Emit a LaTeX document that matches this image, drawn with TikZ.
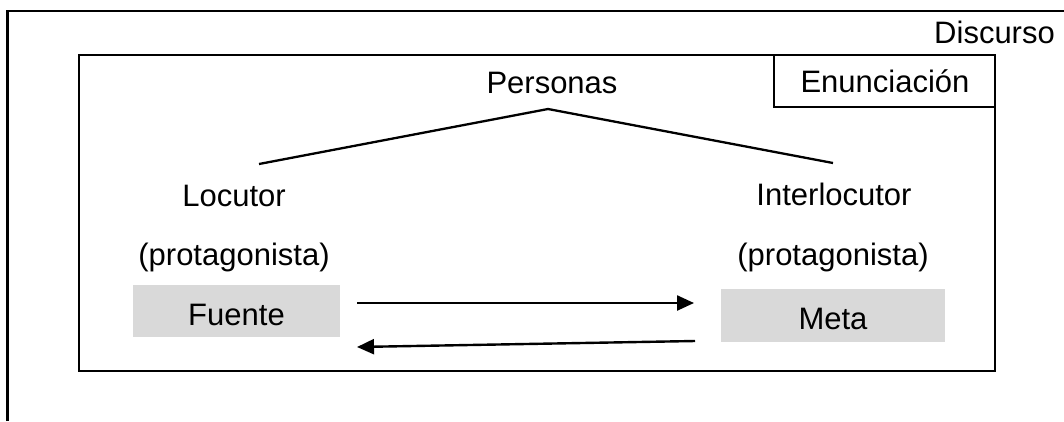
\documentclass[tikz,border=0pt]{standalone}
\usepackage{fontspec}
\setmainfont{Liberation Sans}
\usetikzlibrary{arrows.meta}
\definecolor{boxgray}{HTML}{D9D9D9}
\tikzset{
  lbl/.style={anchor=base, inner sep=0pt, font=\fontsize{31}{37}\selectfont},
  rolebox/.style={fill=boxgray, draw=none, inner sep=0pt, text height=28pt, text depth=0pt, font=\fontsize{31}{37}\selectfont},
  frame/.style={draw=black, line width=2.6pt},
  thinframe/.style={draw=black, line width=1.2pt},
  link/.style={draw=black, line width=2.3pt},
  flow/.style={draw=black, line width=2.4pt, -{Triangle[length=17pt,width=15pt]}}
}
\begin{document}
\begin{tikzpicture}[x=1pt,y=-1pt]
\useasboundingbox (0,0) rectangle (1064,421);
% outer frame (Discurso)
\coordinate (ob) at (7.5,421);
\coordinate (otl) at (7.5,11);
\coordinate (otr) at (1064,11);
\draw[line width=2.3pt] (ob) -- (otl) -- (otr);
\node[lbl, anchor=base east] (discurso) at (1055,43) {Discurso};
% Enunciacion box
\draw[thinframe] (774,55) rectangle (995,107);
\node[lbl] (enun) at (885,92) {Enunciación};
% inner frame
\draw[frame] (79,55) rectangle (995,371);
% Personas
\node[lbl] (personas) at (552,93) {Personas};
\coordinate (apex) at (548,109);
\coordinate (lend) at (259,164);
\coordinate (rend) at (833,163);
\draw[link] (lend) -- (apex) -- (rend);
% roles
\node[lbl] (locutor) at (234,206) {Locutor};
\node[lbl] (protl) at (234,265) {(protagonista)};
\node[lbl] (interl) at (834,205) {Interlocutor};
\node[lbl] (protr) at (833,265) {(protagonista)};
\node[rolebox, minimum width=207pt, minimum height=52pt] (fuente) at (236.5,311) {Fuente};
\node[rolebox, minimum width=224pt, minimum height=53pt] (meta) at (833,315.5) {Meta};
% arrows
\coordinate (a1s) at (357,303);
\coordinate (a1e) at (694,303);
\coordinate (a2s) at (695,341);
\coordinate (a2e) at (357,347);
\draw[flow] (a1s) -- (a1e);
\draw[flow] (a2s) -- (a2e);
\end{tikzpicture}
\end{document}
